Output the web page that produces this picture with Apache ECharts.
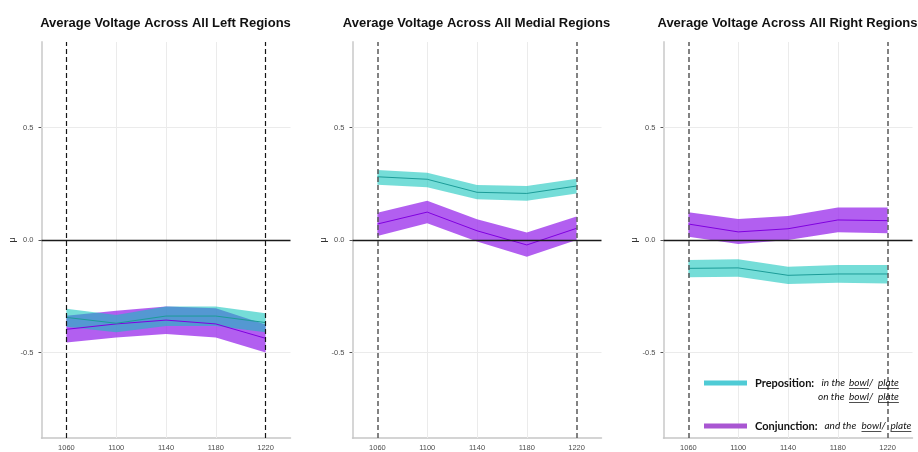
<!DOCTYPE html>
<html><head><meta charset="utf-8">
<script src="https://cdn.jsdelivr.net/npm/echarts@6/dist/echarts.min.js"></script>
<style>html,body{margin:0;padding:0;background:#fff}#c{width:918px;height:452px}</style>
</head><body><div id="c"></div>
<script>
const categories = ['1060', '1100', '1140', '1180', '1220'];
const panelTitles = ['Average Voltage Across All Left Regions', 'Average Voltage Across All Medial Regions', 'Average Voltage Across All Right Regions'];
const yTickValues = [-0.5, 0, 0.5];
const gridXLines = ['1100', '1140', '1180'];
const gridYLines = [-0.5, 0.5];
const windowEdges = ['1060', '1220'];
const seriesNames = ['Preposition', 'Conjunction'];

// Left regions
const leftPrepMean = [-0.344, -0.370, -0.338, -0.338, -0.367];
const leftPrepLow  = [-0.385, -0.410, -0.382, -0.382, -0.410];
const leftPrepHigh = [-0.306, -0.333, -0.296, -0.296, -0.326];
const leftConjMean = [-0.397, -0.373, -0.356, -0.373, -0.437];
const leftConjLow  = [-0.456, -0.433, -0.418, -0.433, -0.500];
const leftConjHigh = [-0.337, -0.314, -0.296, -0.303, -0.375];
// Medial regions
const medPrepMean = [0.281, 0.270, 0.212, 0.207, 0.240];
const medPrepLow  = [0.246, 0.234, 0.181, 0.175, 0.207];
const medPrepHigh = [0.311, 0.299, 0.244, 0.240, 0.272];
const medConjMean = [0.071, 0.124, 0.041, -0.022, 0.052];
const medConjLow  = [0.018, 0.074, -0.007, -0.074, 0.000];
const medConjHigh = [0.121, 0.175, 0.092, 0.033, 0.104];
// Right regions
const rightPrepMean = [-0.126, -0.124, -0.157, -0.151, -0.151];
const rightPrepLow  = [-0.166, -0.163, -0.196, -0.190, -0.193];
const rightPrepHigh = [-0.089, -0.086, -0.119, -0.111, -0.111];
const rightConjMean = [0.071, 0.036, 0.050, 0.089, 0.086];
const rightConjLow  = [0.015, -0.018, 0.000, 0.034, 0.030];
const rightConjHigh = [0.123, 0.093, 0.107, 0.144, 0.144];

const panels = [
  { prep: [leftPrepLow, leftPrepMean, leftPrepHigh], conj: [leftConjLow, leftConjMean, leftConjHigh], edge: '#151515', edgeW: 1.2 },
  { prep: [medPrepLow, medPrepMean, medPrepHigh], conj: [medConjLow, medConjMean, medConjHigh], edge: '#595959', edgeW: 1.5 },
  { prep: [rightPrepLow, rightPrepMean, rightPrepHigh], conj: [rightConjLow, rightConjMean, rightConjHigh], edge: '#595959', edgeW: 1.5 }
];

const GL = [41.5, 352.5, 663.5], GW = 249, GT = 42, GH = 396;
const PREP_FILL = 'rgb(13,196,187)', PREP_ALPHA = 0.57, PREP_LINE = '#1c9c98';
const CONJ_FILL = 'rgb(152,42,235)', CONJ_ALPHA = 0.75, CONJ_LINE = '#8000e0';
const FONT = 'Liberation Sans';

const grid = [], xAxis = [], yAxis = [], title = [], series = [];
panels.forEach((p, i) => {
  grid.push({ left: GL[i], top: GT, width: GW, height: GH });
  title.push({ text: panelTitles[i], left: GL[i] + GW / 2 - 5.5, top: 12, textAlign: 'center',
    textStyle: { fontFamily: FONT, fontWeight: 'bold', fontSize: 13, color: '#111' } });
  xAxis.push({ type: 'category', gridIndex: i, data: categories, boundaryGap: true,
    axisLine: { onZero: false, lineStyle: { color: '#c6c6c6', width: 1.5 } },
    axisTick: { alignWithLabel: true, length: 4, lineStyle: { color: '#555' } },
    axisLabel: { fontFamily: FONT, fontSize: 7.5, color: '#4d4d4d', margin: 6 },
    splitLine: { show: false } });
  yAxis.push({ type: 'value', gridIndex: i, min: -0.88, max: 0.88, name: 'μ', nameLocation: 'middle', nameGap: 22,
    nameTextStyle: { fontFamily: FONT, fontSize: 9, color: '#333' },
    axisLine: { show: true, onZero: false, lineStyle: { color: '#d6d6d6', width: 2 } },
    axisTick: { show: true, length: 3, customValues: yTickValues, lineStyle: { color: '#555' } },
    axisLabel: { customValues: yTickValues, formatter: v => v.toFixed(1), fontFamily: FONT, fontSize: 7.5, color: '#4d4d4d', margin: 8 },
    splitLine: { show: false } });

  const groups = [
    { name: seriesNames[1], d: p.conj, fill: CONJ_FILL, alpha: CONJ_ALPHA, line: CONJ_LINE, key: 'conj' + i },
    { name: seriesNames[0], d: p.prep, fill: PREP_FILL, alpha: PREP_ALPHA, line: PREP_LINE, key: 'prep' + i }
  ];
  groups.forEach((g, gi) => {
    const [low, mean, high] = g.d;
    series.push({ type: 'line', name: g.name + ' low', xAxisIndex: i, yAxisIndex: i, stack: g.key, stackStrategy: 'all',
      data: low, symbol: 'none', silent: true, lineStyle: { opacity: 0 } });
    series.push({ type: 'line', name: g.name + ' band', xAxisIndex: i, yAxisIndex: i, stack: g.key, stackStrategy: 'all',
      data: high.map((h, k) => +(h - low[k]).toFixed(4)), symbol: 'none', silent: true,
      lineStyle: { opacity: 0 }, areaStyle: { color: g.fill, opacity: g.alpha } });
    const meanSeries = { type: 'line', name: g.name, xAxisIndex: i, yAxisIndex: i, data: mean, symbol: 'none', silent: true,
      lineStyle: { color: g.line, width: 1 } };
    if (gi === 0) {
      meanSeries.markLine = { silent: true, symbol: ['none', 'none'], label: { show: false }, z: 1, animation: false,
        emphasis: { disabled: true },
        lineStyle: { color: '#ebebeb', width: 1, type: 'solid' },
        data: gridXLines.map(c => ({ xAxis: c })).concat(gridYLines.map(v => ({ yAxis: v }))) };
    } else {
      meanSeries.markLine = { silent: true, symbol: ['none', 'none'], label: { show: false }, animation: false,
        emphasis: { disabled: true },
        data: [{ yAxis: 0, lineStyle: { color: '#1a1a1a', width: 1.3, type: 'solid' } }]
          .concat(windowEdges.map(c => ({ xAxis: c, lineStyle: { color: p.edge, width: p.edgeW, type: [5, 3] } }))) };
    }
    series.push(meanSeries);
  });
});

// Legend (drawn as graphic so it can carry the italic/underlined labels)
const LF = 'Lato';
const FS_B = 11, FS_I = 10;
const ctx = document.createElement('canvas').getContext('2d');
function w(txt) { ctx.font = 'italic ' + FS_I + 'px ' + LF; return ctx.measureText(txt).width; }
const legendLines = [
  { y: 383, bold: 'Preposition:', parts: [['in the ', 821.5], ['bowl', 849], ['/', 0], ['plate', 878]], swatch: '#4fcbd5' },
  { y: 397, bold: null, parts: [['on the ', 818], ['bowl', 849], ['/', 0], ['plate', 878]] },
  { y: 426, bold: 'Conjunction:', parts: [['and the ', 824.5], ['bowl', 861.5], ['/', 0], ['plate', 890.5]], swatch: '#a956d2' }
];
const graphic = [];
legendLines.forEach(L => {
  if (L.swatch) graphic.push({ type: 'rect', shape: { x: 704, y: L.y - 2.5, width: 43, height: 5 }, style: { fill: L.swatch }, z: 100 });
  if (L.bold) graphic.push({ type: 'text', x: 755, y: L.y, style: { text: L.bold, font: 'bold ' + FS_B + 'px ' + LF, fill: '#111', verticalAlign: 'middle', align: 'left' }, z: 100 });
  let prevEnd = 0;
  L.parts.forEach(([t, x]) => {
    const px = x || prevEnd;
    graphic.push({ type: 'text', x: px, y: L.y, style: { text: t, font: 'italic ' + FS_I + 'px ' + LF, fill: '#111', verticalAlign: 'middle', align: 'left' }, z: 100 });
    const ww = w(t);
    if (t === 'bowl' || t === 'plate') {
      graphic.push({ type: 'line', shape: { x1: px, y1: L.y + 5.5, x2: px + ww, y2: L.y + 5.5 }, style: { stroke: '#222', lineWidth: 0.8 }, z: 100 });
    }
    prevEnd = px + ww;
  });
});

const chart = echarts.init(document.getElementById('c'));
chart.setOption({ animation: false, backgroundColor: '#fff', title, grid, xAxis, yAxis, series, graphic });
</script></body></html>
